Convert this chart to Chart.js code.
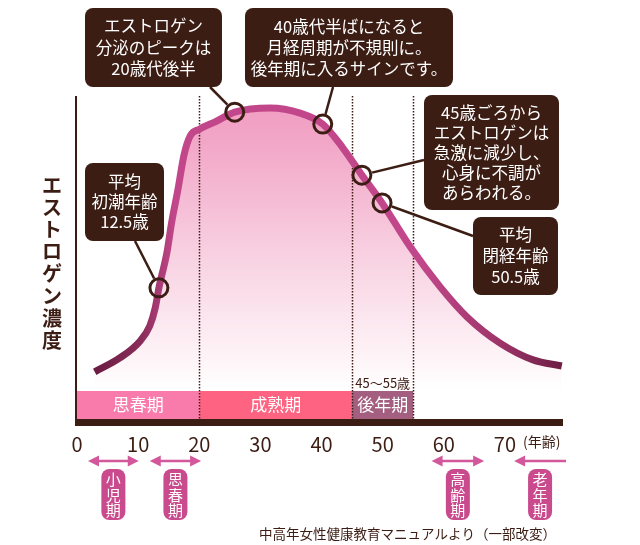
<!DOCTYPE html>
<html lang="ja">
<head>
<meta charset="utf-8">
<title>エストロゲン濃度</title>
<script src="https://cdn.jsdelivr.net/npm/chart.js@4/dist/chart.umd.min.js"></script>
<style>
  html, body { margin: 0; padding: 0; background: #fff; }
  #wrap { width: 640px; height: 545px; }
</style>
</head>
<body>
<div id="wrap"><canvas id="chart" width="640" height="545"></canvas></div>
<script>
// estrogen curve (age, relative level 0-100)
const ages = [2.9, 7.0, 10.3, 11.9, 12.8, 13.4, 14.7, 15.5, 16.5, 17.5, 18.5, 20.1, 22.6, 25.8,
  31.6, 36.5, 40.2, 43.5, 46.6, 49.9, 54.5, 59.4, 63.8, 69.2, 74.6, 79.3];
const levels = [14.6, 18.9, 24.1, 28.8, 34.4, 40.6, 51.4, 61, 70.9, 81.7, 87.6, 89.8, 92, 95,
  96.3, 94.7, 91.3, 83.9, 75.5, 66.9, 53.3, 40.9, 31.6, 23.5, 18.3, 16.4];

// circled points on the curve
const markerAges = [13.4, 25.8, 40.2, 46.6, 49.9];
const markerLevels = [40.6, 95, 91.3, 75.5, 66.9];

const xTicks = [0, 10, 20, 30, 40, 50, 60, 70];

const phaseNames = ['思春期', '成熟期', '後年期'];
const phaseFrom = [0, 20, 45];
const phaseTo = [20, 45, 55];
const dividerAges = [20, 45, 55];

const stageNames = ['小児期', '思春期', '高齢期', '老年期'];
const stageFrom = [1.8, 11.9, 58, 71.5];
const stageTo = [10.1, 20.3, 66.6, 80];
const stageBothHeads = [true, true, true, false];

const noteTexts = [
  ['エストロゲン', '分泌のピークは', '20歳代後半'],
  ['40歳代半ばになると', '月経周期が不規則に。', '後年期に入るサインです。'],
  ['45歳ごろから', 'エストロゲンは', '急激に減少し、', '心身に不調が', 'あらわれる。'],
  ['平均', '閉経年齢', '50.5歳'],
  ['平均', '初潮年齢', '12.5歳']
];
const noteMarker = [1, 2, 3, 4, 0];

const DARK = '#3c1d14';
const FONT = '"Noto Sans CJK JP", "Noto Sans", sans-serif';

// where each callout box sits, and where its connector leaves the box
const boxes = [
  { x: 85, y: 8, w: 137, h: 79, lh: 21.5, ax: 210, ay: 87 },
  { x: 245, y: 8, w: 208, h: 79, lh: 21, ax: 333, ay: 87 },
  { x: 424, y: 95, w: 135, h: 115, lh: 20, ax: 424, ay: 160 },
  { x: 473, y: 217, w: 85, h: 78, lh: 21, ax: 473, ay: 236 },
  { x: 85, y: 163, w: 79, h: 78, lh: 20, ax: 135, ay: 241 }
];
const phaseColors = ['#f97bab', '#fe6381', '#a45f80'];
const BAND_TOP = 391;

const lineGradient = (chart) => {
  const { ctx, chartArea, scales } = chart;
  if (!chartArea) return '#c6488a';
  const x0 = scales.x.getPixelForValue(ages[0]);
  const x1 = scales.x.getPixelForValue(ages[ages.length - 1]);
  const g = ctx.createLinearGradient(x0, 0, x1, 0);
  g.addColorStop(0, '#6b1c42');
  g.addColorStop(0.1, '#8a2d5a');
  g.addColorStop(0.17, '#c2478a');
  g.addColorStop(0.7, '#c2478a');
  g.addColorStop(0.87, '#9c3468');
  g.addColorStop(1, '#6d1e45');
  return g;
};

const fillGradient = (chart) => {
  const { ctx, chartArea } = chart;
  if (!chartArea) return '#f8d3e2';
  const g = ctx.createLinearGradient(0, chartArea.top, 0, BAND_TOP);
  g.addColorStop(0, '#f09cc0');
  g.addColorStop(0.15, '#f2a6c7');
  g.addColorStop(0.55, '#f8d2e2');
  g.addColorStop(0.85, '#fdf0f5');
  g.addColorStop(1, '#ffffff');
  return g;
};

const text = (ctx, s, x, y, size, color, align, weight) => {
  ctx.font = (weight || '') + ' ' + size + 'px ' + FONT;
  ctx.fillStyle = color;
  ctx.textAlign = align || 'center';
  ctx.textBaseline = 'middle';
  ctx.fillText(s, x, y);
};

const arrowHead = (ctx, x, y, dir) => {
  ctx.beginPath();
  ctx.moveTo(x, y);
  ctx.lineTo(x - dir * 11, y - 5.5);
  ctx.lineTo(x - dir * 11, y + 5.5);
  ctx.closePath();
  ctx.fill();
};

const decor = {
  id: 'decor',
  beforeDatasetsDraw(chart) {
    const { ctx, chartArea, scales } = chart;
    const x = scales.x;
    ctx.save();
    // phase band
    phaseNames.forEach((name, i) => {
      const l = x.getPixelForValue(phaseFrom[i]);
      const r = x.getPixelForValue(phaseTo[i]);
      ctx.fillStyle = phaseColors[i];
      ctx.fillRect(l, BAND_TOP, r - l, chartArea.bottom - BAND_TOP);
      text(ctx, name, (l + r) / 2, 405, 17, '#fff');
    });
    // dotted dividers
    ctx.strokeStyle = DARK;
    ctx.lineWidth = 1.5;
    ctx.setLineDash([1.5, 1.5]);
    dividerAges.forEach(a => {
      const px = Math.round(x.getPixelForValue(a)) + 0.5;
      ctx.beginPath();
      ctx.moveTo(px, chartArea.top);
      ctx.lineTo(px, chartArea.bottom);
      ctx.stroke();
    });
    ctx.restore();
  },
  afterDatasetsDraw(chart) {
    const { ctx, chartArea, scales } = chart;
    const x = scales.x, y = scales.y;
    ctx.save();

    // axes
    ctx.fillStyle = DARK;
    ctx.fillRect(chartArea.left - 2, chartArea.top, 2, chartArea.bottom - chartArea.top);
    ctx.fillRect(chartArea.left - 2, chartArea.bottom, chartArea.right - chartArea.left + 2, 7);

    xTicks.forEach(t => text(ctx, String(t), x.getPixelForValue(t), 444, 20, DARK));
    text(ctx, '(年齢)', 523, 442, 14, DARK, 'left');
    text(ctx, '45〜55歳', x.getPixelForValue(50), 383, 13, DARK);

    // vertical axis title
    const title = 'エストロゲン濃度';
    [...title].forEach((c, i) => text(ctx, c, 52, 185 + i * 22.2, 20, DARK, 'center', 'bold'));

    // callouts
    noteTexts.forEach((lines, i) => {
      const b = boxes[i];
      const m = noteMarker[i];
      const cx = x.getPixelForValue(markerAges[m]);
      const cy = y.getPixelForValue(markerLevels[m]);
      const dx = b.ax - cx, dy = b.ay - cy;
      const d = Math.hypot(dx, dy);
      ctx.strokeStyle = DARK;
      ctx.lineWidth = 2.5;
      ctx.beginPath();
      ctx.moveTo(b.ax, b.ay);
      ctx.lineTo(cx + dx / d * 10.5, cy + dy / d * 10.5);
      ctx.stroke();

      ctx.fillStyle = DARK;
      ctx.beginPath();
      ctx.roundRect(b.x, b.y, b.w, b.h, 8);
      ctx.fill();
      const first = b.y + b.h / 2 - (lines.length - 1) * b.lh / 2;
      lines.forEach((s, k) => text(ctx, s, b.x + b.w / 2, first + k * b.lh, 16.5, '#fff'));
    });

    // life stages under the axis
    stageNames.forEach((name, i) => {
      const l = x.getPixelForValue(stageFrom[i]);
      const r = x.getPixelForValue(stageTo[i]);
      const ay = 461;
      ctx.strokeStyle = '#d2589b';
      ctx.fillStyle = '#d2589b';
      ctx.lineWidth = 2.5;
      ctx.beginPath();
      ctx.moveTo(l + 4, ay);
      ctx.lineTo(stageBothHeads[i] ? r - 4 : r, ay);
      ctx.stroke();
      arrowHead(ctx, l, ay, -1);
      if (stageBothHeads[i]) arrowHead(ctx, r, ay, 1);

      const mid = (l + r) / 2;
      ctx.fillStyle = '#c94a8d';
      ctx.beginPath();
      ctx.roundRect(mid - 12, 469, 24, 51, 8);
      ctx.fill();
      [...name].forEach((c, k) => text(ctx, c, mid, 479.5 + k * 15.5, 15, '#fff'));
    });

    text(ctx, '中高年女性健康教育マニュアルより（一部改変）', 556, 534, 13.5, DARK, 'right');
    ctx.restore();
  }
};

new Chart(document.getElementById('chart'), {
  type: 'line',
  data: {
    datasets: [
      {
        label: 'エストロゲン濃度',
        data: ages.map((a, i) => ({ x: a, y: levels[i] })),
        borderColor: (c) => lineGradient(c.chart),
        backgroundColor: (c) => fillGradient(c.chart),
        fill: 'origin',
        borderWidth: 7,
        pointRadius: 0,
        cubicInterpolationMode: 'monotone',
        order: 2
      },
      {
        label: 'markers',
        data: markerAges.map((a, i) => ({ x: a, y: markerLevels[i] })),
        showLine: false,
        pointRadius: 9,
        pointBorderWidth: 3,
        pointBorderColor: DARK,
        pointBackgroundColor: 'rgba(0,0,0,0)',
        order: 1
      }
    ]
  },
  options: {
    responsive: false,
    animation: false,
    events: [],
    layout: { padding: { left: 77, right: 77, top: 96, bottom: 126 } },
    scales: {
      x: { type: 'linear', min: 0, max: 79.5, display: false },
      y: { min: 0, max: 100, display: false }
    },
    plugins: {
      legend: { display: false },
      tooltip: { enabled: false },
      filler: { drawTime: 'beforeDatasetsDraw' }
    }
  },
  plugins: [decor]
});
</script>
</body>
</html>
